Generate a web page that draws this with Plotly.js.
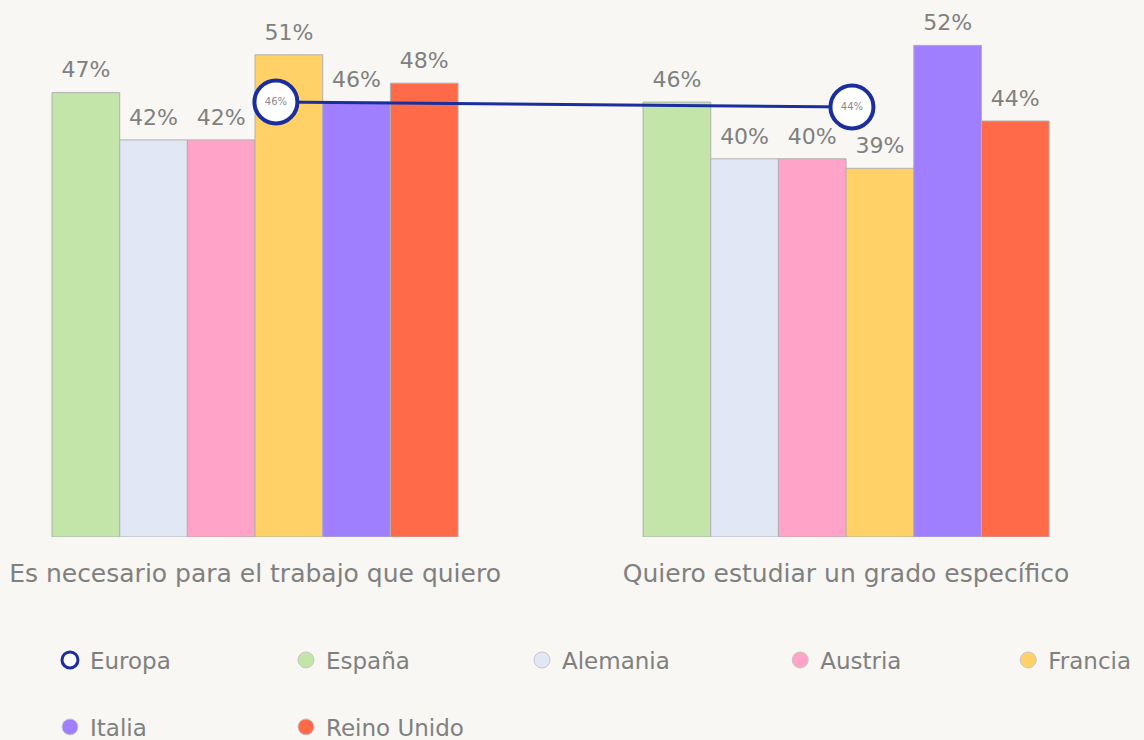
<!DOCTYPE html>
<html>
<head>
<meta charset="utf-8">
<script src="https://cdn.plot.ly/plotly-3.0.1.min.js"></script>
<style>html,body{margin:0;padding:0;background:#f8f7f3;}#chart{width:1144px;height:740px;}</style>
</head>
<body>
<div id="chart"></div>
<script>
const categories = ["Es necesario para el trabajo que quiero", "Quiero estudiar un grado específico"];
const countries = ["España", "Alemania", "Austria", "Francia", "Italia", "Reino Unido"];
const espana = [47, 46];
const alemania = [42, 40];
const austria = [42, 40];
const francia = [51, 39];
const italia = [46, 52];
const reinoUnido = [48, 44];
const europa = [46, 44];
const countryValues = [espana, alemania, austria, francia, italia, reinoUnido];
const colors = ["#c4e5aa", "#e2e7f5", "#ffa4c8", "#ffd166", "#a07ffe", "#ff6a48"];

const FONT = "DejaVu Sans";
const GRAY = "#808080";
const BLUE = "#1a2e9e";
const traces = [];

countries.forEach((name, i) => {
  traces.push({
    type: "bar", name: name, x: categories, y: countryValues[i], offsetgroup: name,
    marker: {color: colors[i], line: {color: "#b0b0b0", width: 1}},
    showlegend: false, hoverinfo: "skip"
  });
});
// value labels above bars (grouped like the bars)
countries.forEach((name, i) => {
  traces.push({
    type: "scatter", mode: "markers+text", name: name + " label", x: categories, y: countryValues[i],
    offsetgroup: name, orientation: "v",
    marker: {size: 14, opacity: 0, color: colors[i]},
    text: countryValues[i].map(v => v + "%"), textposition: "top center",
    textfont: {family: FONT, size: 22, color: GRAY},
    cliponaxis: false, showlegend: false, hoverinfo: "skip"
  });
});

// Europa average line (own overlaid axes so it is not grouped with the labels)
traces.push({
  type: "scatter", mode: "lines+markers+text", name: "Europa",
  x: categories, y: europa, xaxis: "x3", yaxis: "y2",
  line: {color: BLUE, width: 3},
  marker: {symbol: "circle", size: 43, color: "#ffffff", line: {color: BLUE, width: 4}},
  text: europa.map(v => v + "%"), textposition: "middle center",
  textfont: {family: FONT, size: 10, color: "#8a8a8a"},
  cliponaxis: false, showlegend: false, hoverinfo: "skip"
});

// legend entries (circles)
const legendGroups = {
  legend: ["Europa", "España", "Alemania"],
  legend3: ["Austria", "Francia"],
  legend2: ["Italia", "Reino Unido"]
};
Object.keys(legendGroups).forEach(lg => {
  legendGroups[lg].forEach(n => {
    const isEu = n === "Europa";
    traces.push({
      type: "scatter", mode: "markers", name: n, x: [null], y: [null],
      xaxis: "x2", yaxis: "y3",
      marker: {symbol: "circle", size: 16, color: isEu ? "#ffffff" : colors[countries.indexOf(n)],
        line: {color: isEu ? BLUE : "#c8c8c8", width: isEu ? 3 : 1}},
      legend: lg, showlegend: true, hoverinfo: "skip"
    });
  });
});

const legendCommon = {
  orientation: "h", xanchor: "left", yanchor: "middle", xref: "container", yref: "container",
  font: {family: FONT, size: 23, color: GRAY},
  bgcolor: "rgba(0,0,0,0)", entrywidth: 191, entrywidthmode: "pixels",
  itemclick: false, itemdoubleclick: false
};

const xRange = [-0.4315, 1.504];
const layout = {
  width: 1144, height: 740,
  paper_bgcolor: "#f8f7f3", plot_bgcolor: "#f8f7f3",
  margin: {l: 0, r: 0, t: 17, b: 203},
  barmode: "group", bargap: 0.313, bargroupgap: 0,
  scattermode: "group", scattergap: 0.313,
  xaxis: {type: "category", range: xRange, showgrid: false, zeroline: false,
    showline: false, ticks: "", ticklabelstandoff: 19, automargin: false,
    tickfont: {family: FONT, size: 25, color: GRAY}, fixedrange: true},
  xaxis2: {overlaying: "x", visible: false, fixedrange: true},
  xaxis3: {type: "category", overlaying: "x", range: [-0.479, 1.507], visible: false, fixedrange: true},
  yaxis: {range: [0, 55], visible: false, fixedrange: true},
  yaxis2: {range: [-128, 80], overlaying: "y", visible: false, fixedrange: true},
  yaxis3: {overlaying: "y", visible: false, fixedrange: true},
  legend: Object.assign({}, legendCommon, {x: 0.0437, y: 0.1081}),
  legend3: Object.assign({}, legendCommon, {x: 0.682, y: 0.1081, entrywidth: 183}),
  legend2: Object.assign({}, legendCommon, {x: 0.0437, y: 0.0176}),
  showlegend: true
};

Plotly.newPlot("chart", traces, layout, {displayModeBar: false, staticPlot: true});
</script>
</body>
</html>
